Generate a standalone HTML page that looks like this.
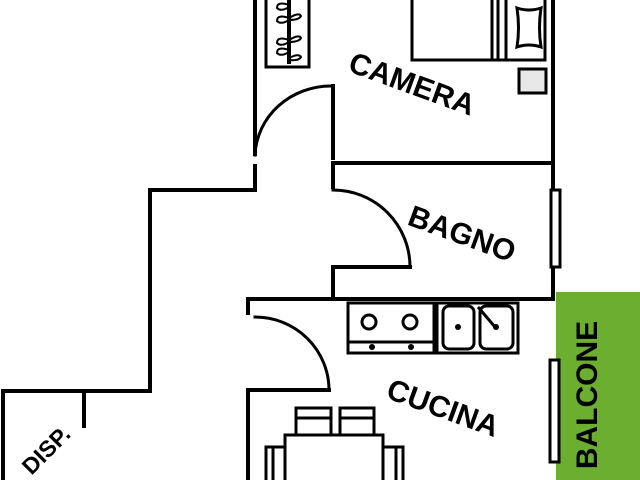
<!DOCTYPE html>
<html><head><meta charset="utf-8"><style>html,body{margin:0;padding:0;background:#fff}svg{display:block}</style></head>
<body>
<svg width="640" height="480" viewBox="0 0 640 480" xmlns="http://www.w3.org/2000/svg">
<rect width="640" height="480" fill="#fff"/>
<rect x="556" y="292" width="84" height="188" fill="#6cae2f"/>
<g fill="none" stroke="#000" stroke-width="4" stroke-linecap="square">
<path d="M255 0 V154"/>
<path d="M255 166 V190 H150 V391 H3 V480"/>
<path d="M84 391 V426"/>
<path d="M553 0 V298"/>
<path d="M333 163 H553"/>
<path d="M333 86 V158"/>
<path d="M255 155 A76 72 0 0 1 331 86" stroke-width="3"/>
<path d="M333 163 V187"/>
<path d="M333 267 V298"/>
<path d="M333 267 H410"/>
<path d="M333 190 A77 77 0 0 1 410 267" stroke-width="3"/>
<path d="M248 299 H553"/>
<path d="M248 299 V313"/>
<path d="M248 392 V480"/>
<path d="M248 390 H329"/>
<path d="M255 317 A74 73 0 0 1 329 390" stroke-width="3"/>
</g>
<rect x="551" y="190" width="9" height="77" fill="#fff" stroke="#000" stroke-width="3"/>
<rect x="550" y="360" width="9" height="102" fill="#fff" stroke="#000" stroke-width="3"/>
<g fill="none" stroke="#000" stroke-width="3">
<rect x="266" y="-3" width="43" height="70"/>
<path d="M289 0 V64" stroke-width="4"/>
<path d="M289 5 q-12 -4 -12 3 q4 4 12 -1 M289 18 q-12 -4 -12 3 q4 4 12 -1 M289 18 q10 -6 12 -2 q-2 4 -12 4 M289 40 q-12 -4 -12 3 q4 4 12 -1 M289 40 q10 -6 12 -2 q-2 4 -12 4 M289 50 q-12 -4 -12 3 q4 4 12 -1 M289 58 q10 -5 12 -1 q-2 4 -12 3" stroke-width="2"/>
<path d="M412 0 V60 H545 V0"/>
<path d="M492 0 V60 M498 0 V60 M506 0 V60"/>
<path d="M517 8 Q529 12 541 8 Q538 28 541 47 Q529 43 517 47 Q520 28 517 8Z"/>
<rect x="348" y="303" width="86" height="50"/>
<path d="M348 342 H434"/>
<circle cx="369" cy="322" r="7"/><circle cx="410" cy="322" r="7"/>
<rect x="437" y="303" width="81" height="50"/>
<rect x="443" y="306" width="31" height="43" rx="6"/>
<rect x="480" y="306" width="33" height="43" rx="6"/>
<path d="M478 307 L495 327"/>
<rect x="285" y="435" width="98" height="50"/>
<rect x="296" y="408" width="35" height="27"/>
<rect x="340" y="408" width="34" height="27"/>
<path d="M296 418 H331 M340 418 H374"/>
<rect x="266" y="447" width="19" height="40"/>
<rect x="383" y="447" width="20" height="40"/>
<path d="M273 447 V480 M396 447 V480"/>
</g>
<rect x="519" y="69" width="27" height="24" fill="#e8e8e8" stroke="#000" stroke-width="3"/>
<g fill="#000"><circle cx="372" cy="347" r="3"/><circle cx="411" cy="347" r="3"/><circle cx="458" cy="327" r="3"/><circle cx="496" cy="327" r="3"/></g>
<g font-family="Liberation Sans, sans-serif" font-weight="bold" fill="#000">
<text x="412" y="94" font-size="30" text-anchor="middle" transform="rotate(20 412 84)">CAMERA</text>
<text x="462" y="244" font-size="30" text-anchor="middle" transform="rotate(20 462 234)">BAGNO</text>
<text x="443" y="418" font-size="30" text-anchor="middle" transform="rotate(20 443 408)">CUCINA</text>
<text x="607" y="405" font-size="30" text-anchor="middle" transform="rotate(-90 597 405)">BALCONE</text>
<text x="46" y="458" font-size="23" text-anchor="middle" transform="rotate(-45 46 450)">DISP.</text>
</g>
</svg>
</body></html>
